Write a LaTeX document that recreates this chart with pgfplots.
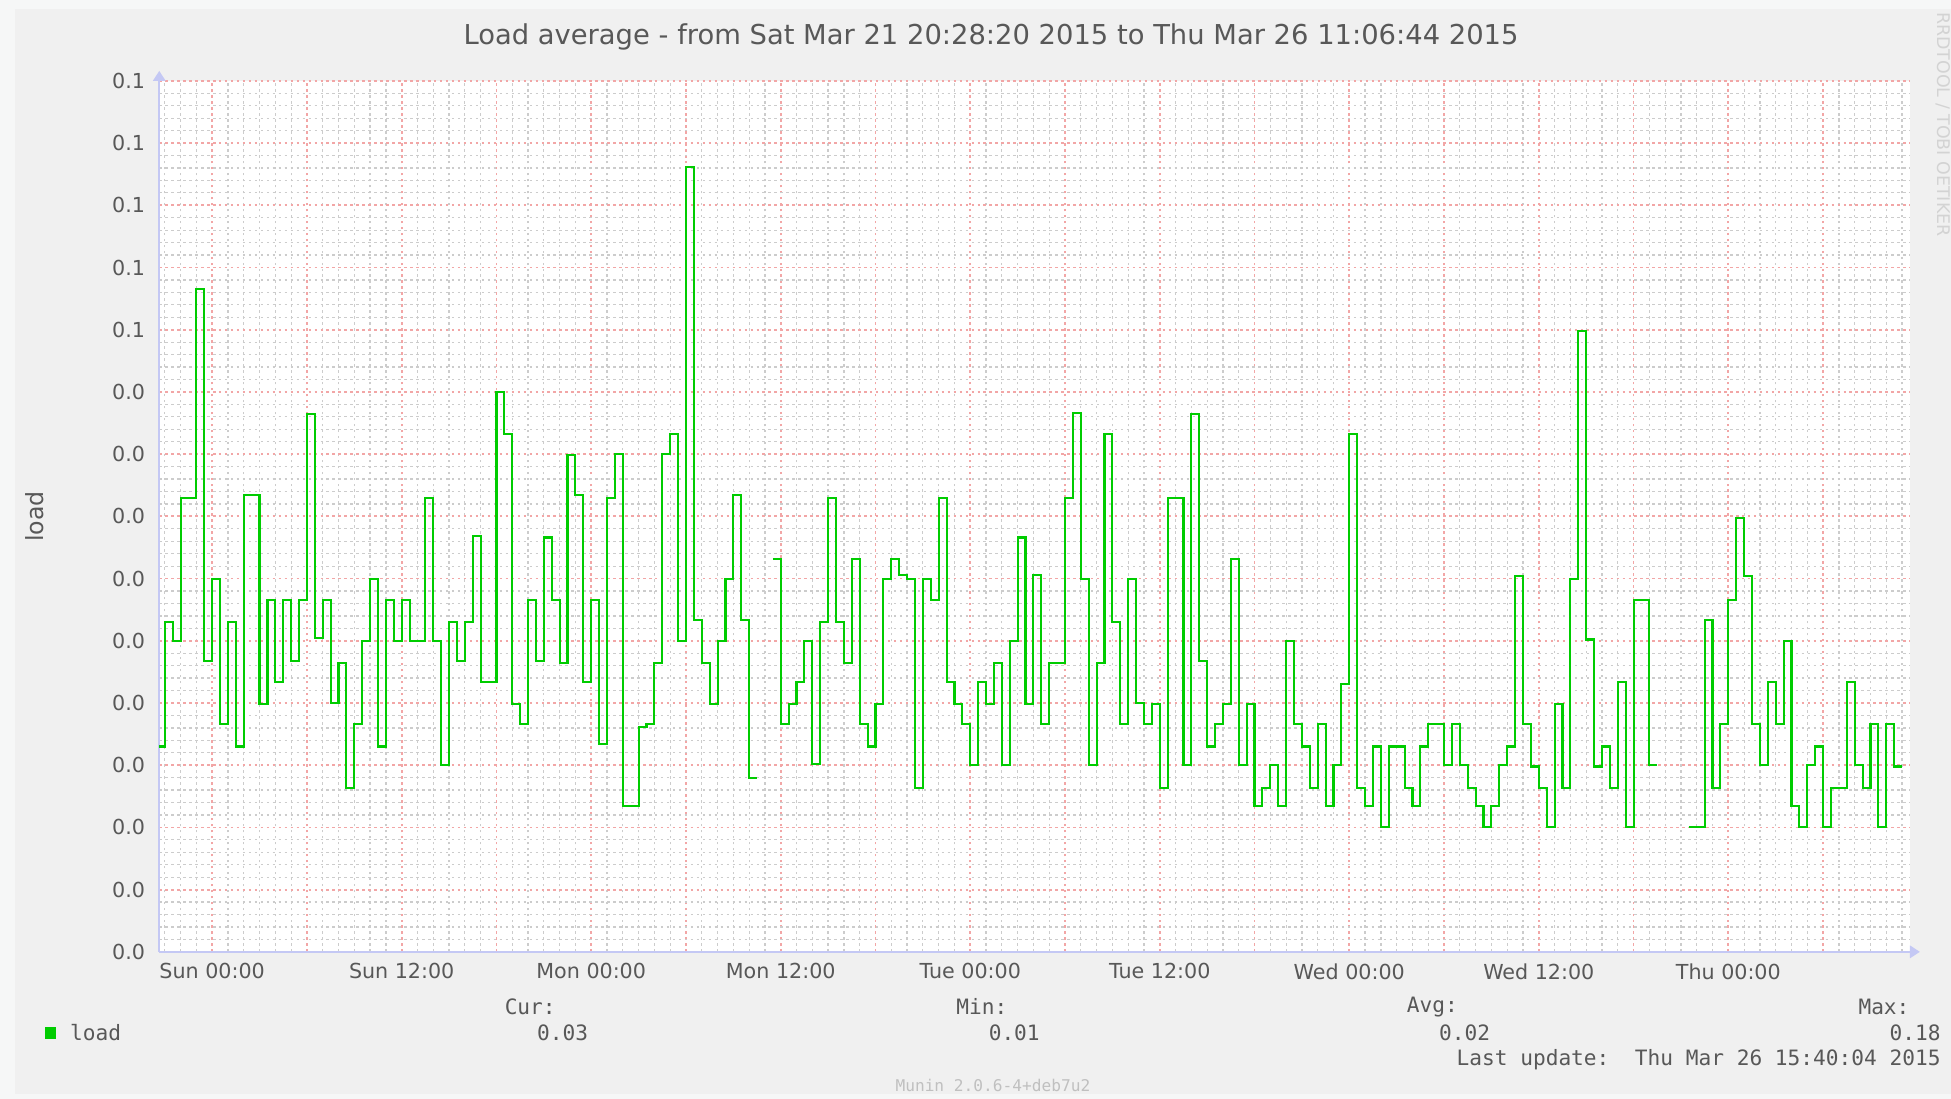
\documentclass[border=0pt]{standalone}
\usepackage{fontspec}
\setmainfont{DejaVu Sans}
\newfontfamily\monofont{DejaVu Sans Mono}
\usepackage{pgfplots}
\pgfplotsset{compat=1.18}
\usetikzlibrary{arrows.meta}
\definecolor{bgout}{HTML}{F6F7F7}
\definecolor{bgin}{HTML}{F0F0F0}
\definecolor{axblue}{HTML}{C4C8F4}
\definecolor{majgrid}{HTML}{F2A6A6}
\definecolor{mingrid}{HTML}{CCCCCC}
\definecolor{lineg}{HTML}{00CC00}
\definecolor{txt}{HTML}{585858}
\definecolor{faint}{HTML}{C0C0C0}

\pgfplotstableread{
h v
-3.35 0.0165
-3.0 0.0265
-2.5 0.025
-2.0 0.0365
-1.0 0.0533
-0.5 0.0234
0.0 0.03
0.5 0.0183
1.0 0.0265
1.5 0.0165
2.0 0.0367
3.0 0.0199
3.5 0.0283
4.0 0.0217
4.5 0.0283
5.0 0.0234
5.5 0.0283
6.0 0.0432
6.5 0.0252
7.0 0.0283
7.5 0.02
8.0 0.0232
8.5 0.0132
9.0 0.0183
9.5 0.025
10.0 0.03
10.5 0.0165
11.0 0.0283
11.5 0.025
12.0 0.0283
12.5 0.025
13.5 0.0365
14.0 0.025
14.5 0.015
15.0 0.0265
15.5 0.0234
16.0 0.0265
16.5 0.0334
17.0 0.0217
18.0 0.045
18.5 0.0416
19.0 0.0199
19.5 0.0183
20.0 0.0283
20.5 0.0234
21.0 0.0333
21.5 0.0283
22.0 0.0232
22.5 0.0399
23.0 0.0367
23.5 0.0217
24.0 0.0283
24.5 0.0167
25.0 0.0365
25.5 0.04
26.0 0.0117
27.0 0.0181
27.5 0.0183
28.0 0.0232
28.5 0.04
29.0 0.0416
29.5 0.025
30.0 0.0631
30.5 0.0267
31.0 0.0232
31.5 0.0199
32.0 0.025
32.5 0.03
33.0 0.0367
33.5 0.0267
34.0 0.014
34.5 0.014
35.0 nan
35.5 0.0316
36.0 0.0183
36.5 0.0199
37.0 0.0217
37.5 0.025
38.0 0.0151
38.5 0.0265
39.0 0.0365
39.5 0.0265
40.0 0.0232
40.5 0.0316
41.0 0.0183
41.5 0.0165
42.0 0.0199
42.5 0.03
43.0 0.0316
43.5 0.0303
44.0 0.03
44.5 0.0132
45.0 0.03
45.5 0.0283
46.0 0.0365
46.5 0.0217
47.0 0.0199
47.5 0.0183
48.0 0.015
48.5 0.0217
49.0 0.0199
49.5 0.0232
50.0 0.015
50.5 0.025
51.0 0.0333
51.5 0.0199
52.0 0.0303
52.5 0.0183
53.0 0.0232
54.0 0.0365
54.5 0.0433
55.0 0.03
55.5 0.015
56.0 0.0232
56.5 0.0416
57.0 0.0265
57.5 0.0183
58.0 0.03
58.5 0.02
59.0 0.0183
59.5 0.0199
60.0 0.0132
60.5 0.0365
61.5 0.015
62.0 0.0432
62.5 0.0234
63.0 0.0165
63.5 0.0183
64.0 0.0199
64.5 0.0316
65.0 0.015
65.5 0.0199
66.0 0.0117
66.5 0.0132
67.0 0.015
67.5 0.0117
68.0 0.025
68.5 0.0183
69.0 0.0165
69.5 0.0132
70.0 0.0183
70.5 0.0117
71.0 0.015
71.5 0.0215
72.0 0.0416
72.5 0.0132
73.0 0.0117
73.5 0.0165
74.0 0.01
74.5 0.0165
75.5 0.0132
76.0 0.0117
76.5 0.0165
77.0 0.0183
78.0 0.015
78.5 0.0183
79.0 0.015
79.5 0.0132
80.0 0.0117
80.5 0.01
81.0 0.0117
81.5 0.015
82.0 0.0165
82.5 0.0302
83.0 0.0183
83.5 0.0149
84.0 0.0132
84.5 0.01
85.0 0.0199
85.5 0.0132
86.0 0.03
86.5 0.0499
87.0 0.0251
87.5 0.0149
88.0 0.0165
88.5 0.0132
89.0 0.0217
89.5 0.01
90.0 0.0283
91.0 0.015
91.5 0.015
92.5 nan
93.5 0.01
94.5 0.0267
95.0 0.0132
95.5 0.0183
96.0 0.0283
96.5 0.0349
97.0 0.0302
97.5 0.0183
98.0 0.015
98.5 0.0217
99.0 0.0183
99.5 0.025
100.0 0.0117
100.5 0.01
101.0 0.015
101.5 0.0165
102.0 0.01
102.5 0.0132
103.5 0.0217
104.0 0.015
104.5 0.0132
105.0 0.0183
105.5 0.01
106.0 0.0183
106.5 0.0149
107.0 0.0149
}\loaddata

\begin{document}
\begin{tikzpicture}[x=1pt,y=1pt]
\useasboundingbox (0,0) rectangle (784,441.5);
\fill[bgout] (0,0) rectangle (784,441.5);
\fill[bgin] (6,2) rectangle (784,438);
\begin{axis}[
  at={(64pt,59pt)}, anchor=south west,
  scale only axis, width=703.5pt, height=350pt,
  xmin=-3.35, xmax=107.5, ymin=0, ymax=0.07,
  axis background/.style={fill=white},
  axis lines=left,
  axis line style={draw=axblue, line width=0.7pt, -{Triangle[width=5pt,length=4pt]}, shorten >=-4pt},
  grid=both,
  major grid style={draw=majgrid, line width=0.7pt, dash pattern=on 1pt off 1.4pt},
  minor grid style={draw=mingrid, line width=0.5pt, dash pattern=on 1pt off 1.4pt},
  major tick length=0pt, minor tick length=0pt,
  scaled y ticks=false,
  xtick={0,6,12,18,24,30,36,42,48,54,60,66,72,78,84,90,96,102},
  xticklabels={{Sun 00:00},{},{Sun 12:00},{},{Mon 00:00},{},{Mon 12:00},{},{Tue 00:00},{},{Tue 12:00},{},{Wed 00:00},{},{Wed 12:00},{},{Thu 00:00},{}},
  minor xtick={-3,-2,-1,1,2,3,4,5,7,8,9,10,11,13,14,15,16,17,19,20,21,22,23,25,26,27,28,29,31,32,33,34,35,37,38,39,40,41,43,44,45,46,47,49,50,51,52,53,55,56,57,58,59,61,62,63,64,65,67,68,69,70,71,73,74,75,76,77,79,80,81,82,83,85,86,87,88,89,91,92,93,94,95,97,98,99,100,101,103,104,105,106,107},
  ytick={0,0.005,0.01,0.015,0.02,0.025,0.03,0.035,0.04,0.045,0.05,0.055,0.06,0.065,0.07},
  yticklabels={0.0,0.0,0.0,0.0,0.0,0.0,0.0,0.0,0.0,0.0,0.1,0.1,0.1,0.1,0.1},
  minor y tick num=4,
  tick label style={font=\fontsize{8.3}{10}\selectfont, text=txt},
  yticklabel style={anchor=east, inner sep=0pt, xshift=-5.5pt},
  xticklabel style={anchor=north, inner sep=0pt, yshift=-4.5pt},
  unbounded coords=jump,
  clip=false,
]
\addplot[const plot, draw=lineg, line width=0.85pt] table[x=h, y=v] {\loaddata};
\end{axis}
\node[text=txt, font=\fontsize{11}{13}\selectfont] at (398.25,426.5) {Load average - from Sat Mar 21 20:28:20 2015 to Thu Mar 26 11:06:44 2015};
\node[rotate=90, text=txt, font=\fontsize{9.5}{11}\selectfont] at (14,234) {load};
\node[rotate=-90, text=faint!70, font=\fontsize{7}{8}\selectfont] at (781,391.5) {RRDTOOL / TOBI OETIKER};
\fill[lineg] (18,24) rectangle (22.5,29);
\begin{scope}[every node/.style={inner sep=0pt, text=txt, font=\monofont\fontsize{8.5}{10}\selectfont}]
\node[anchor=west] at (28,26.5) {load};
\node[anchor=east] at (223.5,37) {Cur:};
\node[anchor=east] at (236.5,26.5) {0.03};
\node[anchor=east] at (405,37) {Min:};
\node[anchor=east] at (418,26.5) {0.01};
\node[anchor=east] at (586,37) {Avg:};
\node[anchor=east] at (599,26.5) {0.02};
\node[anchor=east] at (767.5,37) {Max:};
\node[anchor=east] at (780,26.5) {0.18};
\node[anchor=east] at (780,15.5) {Last update:\ \ Thu Mar 26 15:40:04 2015};
\end{scope}
\node[inner sep=0pt, text=faint, font=\monofont\fontsize{6.5}{8}\selectfont] at (399,5.5) {Munin 2.0.6-4+deb7u2};
\end{tikzpicture}
\end{document}
